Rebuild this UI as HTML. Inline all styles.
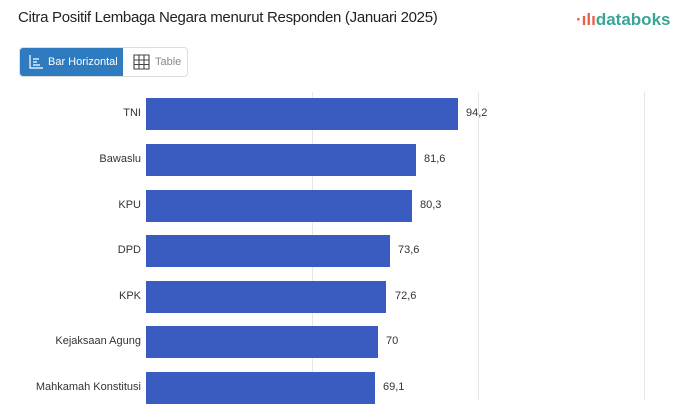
<!DOCTYPE html>
<html><head><meta charset="utf-8"><style>
body{margin:0;width:681px;height:400px;overflow:hidden;background:#fff;font-family:"Liberation Sans",sans-serif;position:relative}
.t{position:absolute;left:18px;top:9px;font-size:15px;color:#222;letter-spacing:-0.3px}
.logo{position:absolute;left:576px;top:10px;font-size:17px;color:#3aa597;font-weight:bold}
.logo span{color:#e8604c}
.btns{position:absolute;left:19px;top:47px;height:28px;width:167px;border:1px solid #ddd;border-radius:4px;overflow:hidden}
.b1{position:absolute;left:0;top:0;width:103px;height:28px;background:#2e7bbf;color:#fff;font-size:11px;line-height:28px;padding-left:28px;box-sizing:border-box}
.b2{position:absolute;left:103px;top:0;width:64px;height:28px;color:#888;font-size:11px;line-height:28px;padding-left:32px;box-sizing:border-box}
.g{position:absolute;top:92px;width:1px;height:308px;background:#e6e6e6}
.bar{position:absolute;left:146px;height:32px;background:#3a5bbf}
.l{position:absolute;right:540px;font-size:11px;color:#333;text-align:right;white-space:nowrap}
.v{position:absolute;font-size:11px;color:#333}
</style></head><body>
<div class="t">Citra Positif Lembaga Negara menurut Responden (Januari 2025)</div>
<div class="logo"><span>·ılı</span>databoks</div>
<div class="btns"><div class="b1">Bar Horizontal
<svg style="position:absolute;left:9px;top:7px" width="14" height="14"><path d="M1 0V13H14M4 4H10M4 7H8M4 10H11" stroke="#fff" fill="none" stroke-width="1.2"/></svg></div>
<div class="b2">Table<svg style="position:absolute;left:10px;top:6px" width="17" height="16"><path d="M1 1H16V15H1ZM1 6H16M1 10.5H16M6 1V15M11 1V15" stroke="#444" fill="none" stroke-width="1.1"/></svg></div></div>
<div class="g" style="left:312px"></div><div class="g" style="left:478px"></div><div class="g" style="left:644px"></div>
<div class="bar" style="top:98px;width:312px"></div><div class="l" style="top:107px">TNI</div><div class="v" style="left:466px;top:107px">94,2</div>
<div class="bar" style="top:144px;width:270px"></div><div class="l" style="top:153px">Bawaslu</div><div class="v" style="left:424px;top:153px">81,6</div>
<div class="bar" style="top:190px;width:266px"></div><div class="l" style="top:199px">KPU</div><div class="v" style="left:420px;top:199px">80,3</div>
<div class="bar" style="top:235px;width:244px"></div><div class="l" style="top:244px">DPD</div><div class="v" style="left:398px;top:244px">73,6</div>
<div class="bar" style="top:281px;width:240px"></div><div class="l" style="top:290px">KPK</div><div class="v" style="left:395px;top:290px">72,6</div>
<div class="bar" style="top:326px;width:232px"></div><div class="l" style="top:335px">Kejaksaan Agung</div><div class="v" style="left:386px;top:335px">70</div>
<div class="bar" style="top:372px;width:229px"></div><div class="l" style="top:381px">Mahkamah Konstitusi</div><div class="v" style="left:383px;top:381px">69,1</div>
</body></html>
